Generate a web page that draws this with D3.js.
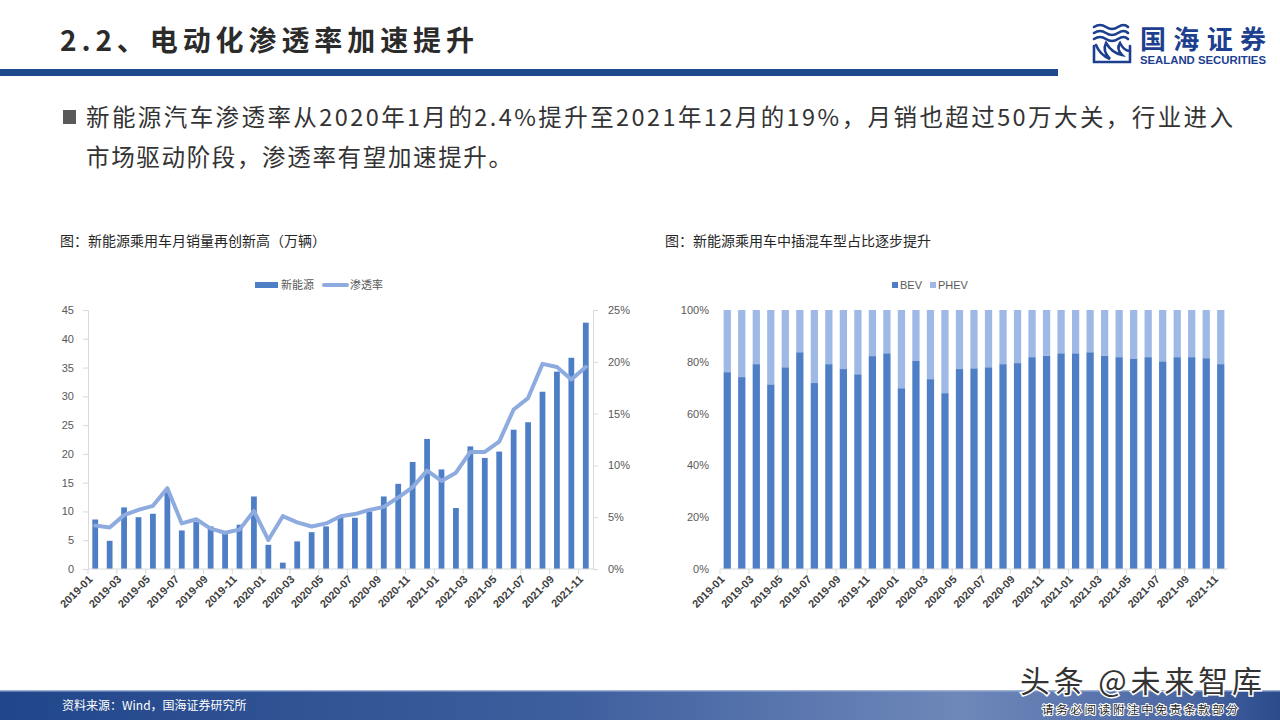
<!DOCTYPE html>
<html><head><meta charset="utf-8">
<script src="https://cdn.jsdelivr.net/npm/d3@7"></script>
<style>body{margin:0;background:#fff;}svg{display:block}</style>
</head><body>
<svg id="c" width="1280" height="720"></svg>
<script>
// ---------------- DATA ----------------
const months = ["2019-01","2019-02","2019-03","2019-04","2019-05","2019-06","2019-07","2019-08","2019-09","2019-10","2019-11","2019-12",
  "2020-01","2020-02","2020-03","2020-04","2020-05","2020-06","2020-07","2020-08","2020-09","2020-10","2020-11","2020-12",
  "2021-01","2021-02","2021-03","2021-04","2021-05","2021-06","2021-07","2021-08","2021-09","2021-10","2021-11"];
const tickMonths = ["2019-01","2019-03","2019-05","2019-07","2019-09","2019-11","2020-01","2020-03","2020-05","2020-07","2020-09","2020-11",
  "2021-01","2021-03","2021-05","2021-07","2021-09","2021-11"];
// 新能源乘用车月销量（万辆）
const nevSales = [8.6,4.9,10.7,9.0,9.6,13.4,6.7,8.2,7.4,6.5,7.7,12.6,4.2,1.1,4.8,6.4,7.4,9.0,8.9,10.0,12.6,14.8,18.6,22.6,17.3,10.6,21.3,19.3,20.4,24.2,25.5,30.8,34.3,36.7,42.8];
// 渗透率（%）
const penetration = [4.2,4.0,5.2,5.7,6.1,7.8,4.4,4.8,3.9,3.5,3.8,5.6,2.8,5.1,4.5,4.1,4.4,5.1,5.3,5.7,6.0,6.9,7.9,9.5,8.5,9.3,11.3,11.3,12.3,15.4,16.5,19.8,19.5,18.3,19.5];
// BEV / PHEV share (%)
const bevShare = [76.0,74.1,79.1,71.3,77.9,83.7,71.8,79.1,77.2,75.2,82.2,83.3,69.8,80.5,73.3,67.9,77.2,77.5,77.9,79.1,79.5,81.8,82.4,83.3,83.3,83.7,82.4,81.8,81.3,81.8,80.2,81.8,81.8,81.4,79.1];
const phevShare = [24.0,25.9,20.9,28.7,22.1,16.3,28.2,20.9,22.8,24.8,17.8,16.7,30.2,19.5,26.7,32.1,22.8,22.5,22.1,20.9,20.5,18.2,17.6,16.7,16.7,16.3,17.6,18.2,18.7,18.2,19.8,18.2,18.2,18.6,20.9];
const salesTicks = [0,5,10,15,20,25,30,35,40,45];
const penTicks = [0,5,10,15,20,25];
const shareTicks = [0,20,40,60,80,100];

// ---------------- STYLE ----------------
const CJK = "'Noto Sans CJK SC','Noto Sans',sans-serif";
const LAT = "'Liberation Sans',Arial,sans-serif";
const barDark = "#4e7fc6", barLight = "#9fb9e6", lineCol = "#8eabe0";
const axisCol = "#d9d9d9", txtCol = "#595959";

const svg = d3.select("#c");

// ---------------- HEADER ----------------
svg.append("text").attr("x",60).attr("y",51).attr("font-family",CJK).attr("font-weight","bold")
  .attr("font-size",28).attr("fill","#2b2b2b").attr("textLength",414).attr("lengthAdjust","spacing")
  .text("2.2、电动化渗透率加速提升");
svg.append("rect").attr("x",0).attr("y",69).attr("width",1058).attr("height",7).attr("fill","#1d4a8b");

// logo
const logo = svg.append("g");
const emb = logo.append("g").attr("fill","none").attr("stroke","#1d3f8f").attr("stroke-width",2.6).attr("stroke-linecap","round");
[27,33,39].forEach(y=>{
  emb.append("path").attr("d",`M1094,${y} q6,-4 12,0 t12,0 t10,0`);
});
emb.append("path").attr("d","M1096,45 q4,10 14,14 q-8,-8 -4,-16 q6,10 16,12 q-6,-6 -2,-12 q4,8 10,8");
emb.append("path").attr("d","M1094,46 L1094,62 L1130,62 L1130,46");
logo.append("text").attr("x",1140).attr("y",49).attr("font-family",CJK).attr("font-weight","bold")
  .attr("font-size",26).attr("fill","#1d3f8f").attr("textLength",126).attr("lengthAdjust","spacing").text("国海证券");
logo.append("text").attr("x",1140).attr("y",64).attr("font-family",LAT).attr("font-weight","bold")
  .attr("font-size",10.5).attr("fill","#1d3f8f").attr("textLength",126).attr("lengthAdjust","spacingAndGlyphs").text("SEALAND SECURITIES");

// bullet text
svg.append("rect").attr("x",63).attr("y",110).attr("width",13).attr("height",14).attr("fill","#595959");
svg.append("text").attr("x",86).attr("y",126).attr("font-family",CJK).attr("font-size",23.5).attr("fill","#333")
  .attr("textLength",1147).attr("lengthAdjust","spacing")
  .text("新能源汽车渗透率从2020年1月的2.4%提升至2021年12月的19%，月销也超过50万大关，行业进入");
svg.append("text").attr("x",86).attr("y",166).attr("font-family",CJK).attr("font-size",23.5).attr("fill","#333")
  .attr("textLength",426).attr("lengthAdjust","spacing")
  .text("市场驱动阶段，渗透率有望加速提升。");

// chart titles
svg.append("text").attr("x",60).attr("y",246).attr("font-family",CJK).attr("font-size",14).attr("fill","#262626")
  .text("图：新能源乘用车月销量再创新高（万辆）");
svg.append("text").attr("x",665).attr("y",246).attr("font-family",CJK).attr("font-size",14).attr("fill","#262626")
  .text("图：新能源乘用车中插混车型占比逐步提升");

// ---------------- LEFT CHART ----------------
const L = {x0:88, x1:593, y0:569, y1:310};
const xL = d3.scaleBand().domain(months).range([L.x0,L.x1]).paddingInner(0.6).paddingOuter(0.3);
const yL = d3.scaleLinear().domain([0,45]).range([L.y0,L.y1]);
const yR = d3.scaleLinear().domain([0,25]).range([L.y0,L.y1]);
const gL = svg.append("g");

function styleAxis(g){
  g.selectAll(".domain").attr("stroke",axisCol);
  g.selectAll(".tick line").attr("stroke",axisCol);
  g.selectAll("text").attr("fill",txtCol).attr("font-family",LAT).attr("font-size",11);
}
gL.append("g").attr("transform",`translate(${L.x0},0)`)
  .call(d3.axisLeft(yL).tickValues(salesTicks).tickSize(5).tickPadding(9).tickSizeOuter(0)).call(styleAxis);
gL.append("g").attr("transform",`translate(${L.x1},0)`)
  .call(d3.axisRight(yR).tickValues(penTicks).tickFormat(d=>d+"%").tickSize(5).tickPadding(10).tickSizeOuter(0)).call(styleAxis);

function xAxis(g, x, y){
  const step = x.step(), r = x.range();
  g.append("line").attr("x1",r[0]).attr("x2",r[1]).attr("y1",y).attr("y2",y).attr("stroke",axisCol);
  const idx = d3.range(0, months.length+1, 2);
  g.selectAll("line.tk").data(idx).join("line").attr("class","tk")
    .attr("x1",i=>r[0]+i*step).attr("x2",i=>r[0]+i*step).attr("y1",y).attr("y2",y+5).attr("stroke",axisCol);
  g.selectAll("text.xl").data(tickMonths).join("text").attr("class","xl")
    .attr("transform",m=>`translate(${x(m)+x.bandwidth()/2-2},${y+11}) rotate(-45)`)
    .attr("text-anchor","end").attr("font-family",LAT).attr("font-weight","bold").attr("font-size",11)
    .attr("fill","#404040").text(m=>m);
}

gL.selectAll("rect.bar").data(months).join("rect").attr("class","bar")
  .attr("x",m=>xL(m)).attr("width",xL.bandwidth())
  .attr("y",(m,i)=>yL(nevSales[i])).attr("height",(m,i)=>yL(0)-yL(nevSales[i])).attr("fill",barDark);
gL.append("g").call(g=>xAxis(g,xL,L.y0));
gL.append("path").datum(months).attr("fill","none").attr("stroke",lineCol).attr("stroke-width",4)
  .attr("stroke-linejoin","round").attr("stroke-linecap","round")
  .attr("d",d3.line().x(m=>xL(m)+xL.bandwidth()/2).y((m,i)=>yR(penetration[i])));

// legend left
const lgL = svg.append("g").attr("font-family",CJK).attr("font-size",11).attr("fill",txtCol);
lgL.append("rect").attr("x",255).attr("y",282).attr("width",23).attr("height",6).attr("fill",barDark);
lgL.append("text").attr("x",281).attr("y",289).text("新能源");
lgL.append("line").attr("x1",324).attr("x2",347).attr("y1",285).attr("y2",285).attr("stroke",lineCol).attr("stroke-width",4).attr("stroke-linecap","round");
lgL.append("text").attr("x",350).attr("y",289).text("渗透率");

// ---------------- RIGHT CHART ----------------
const R = {x0:720, x1:1228, y0:569, y1:310};
const xS = d3.scaleBand().domain(months).range([R.x0,R.x1]).paddingInner(0.5).paddingOuter(0.25);
const yS = d3.scaleLinear().domain([0,100]).range([R.y0,R.y1]);
const gR = svg.append("g");
gR.append("g").attr("transform",`translate(${R.x0},0)`)
  .call(d3.axisLeft(yS).tickValues(shareTicks).tickFormat(d=>d+"%").tickSize(0).tickPadding(11)).call(styleAxis)
  .call(g=>g.select(".domain").remove());
gR.selectAll("rect.bev").data(months).join("rect").attr("class","bev")
  .attr("x",m=>xS(m)).attr("width",xS.bandwidth())
  .attr("y",(m,i)=>yS(bevShare[i])).attr("height",(m,i)=>yS(0)-yS(bevShare[i])).attr("fill",barDark);
gR.selectAll("rect.phev").data(months).join("rect").attr("class","phev")
  .attr("x",m=>xS(m)).attr("width",xS.bandwidth())
  .attr("y",(m,i)=>yS(bevShare[i]+phevShare[i])).attr("height",(m,i)=>yS(bevShare[i])-yS(bevShare[i]+phevShare[i])).attr("fill",barLight);
gR.append("g").call(g=>xAxis(g,xS,R.y0));

const lgR = svg.append("g").attr("font-family",LAT).attr("font-size",11).attr("fill",txtCol);
lgR.append("rect").attr("x",892).attr("y",282).attr("width",6).attr("height",6).attr("fill",barDark);
lgR.append("text").attr("x",900).attr("y",289).text("BEV");
lgR.append("rect").attr("x",930).attr("y",282).attr("width",6).attr("height",6).attr("fill",barLight);
lgR.append("text").attr("x",938).attr("y",289).text("PHEV");

// ---------------- FOOTER ----------------
const defs = svg.append("defs");
const gr = defs.append("linearGradient").attr("id","fg").attr("x1","0").attr("x2","1").attr("y1","0").attr("y2","0");
[["0%","#21468a"],["45%","#3e5f9e"],["75%","#6f88ba"],["92%","#4d69a5"],["100%","#2b4b8c"]].forEach(([o,c])=>gr.append("stop").attr("offset",o).attr("stop-color",c));
svg.append("rect").attr("x",0).attr("y",691).attr("width",1280).attr("height",29).attr("fill","url(#fg)");
svg.append("rect").attr("x",0).attr("y",690).attr("width",1280).attr("height",1.5).attr("fill","#9fb2d6");
svg.append("text").attr("x",62).attr("y",710).attr("font-family",CJK).attr("font-size",12).attr("fill","#fff")
  .text("资料来源：Wind，国海证券研究所");

// watermark
svg.append("text").attr("x",1020).attr("y",692).attr("font-family",CJK).attr("font-size",30).attr("fill","#333")
  .attr("stroke","#fff").attr("stroke-width",3).attr("paint-order","stroke").attr("textLength",242).attr("lengthAdjust","spacing")
  .text("头条 @未来智库");
svg.append("text").attr("x",1042).attr("y",714).attr("font-family",CJK).attr("font-size",11.5).attr("fill","#222")
  .attr("stroke","#fff").attr("stroke-width",2).attr("paint-order","stroke").attr("textLength",196).attr("lengthAdjust","spacing")
  .text("请务必阅读附注中免责条款部分");
</script>
</body></html>
